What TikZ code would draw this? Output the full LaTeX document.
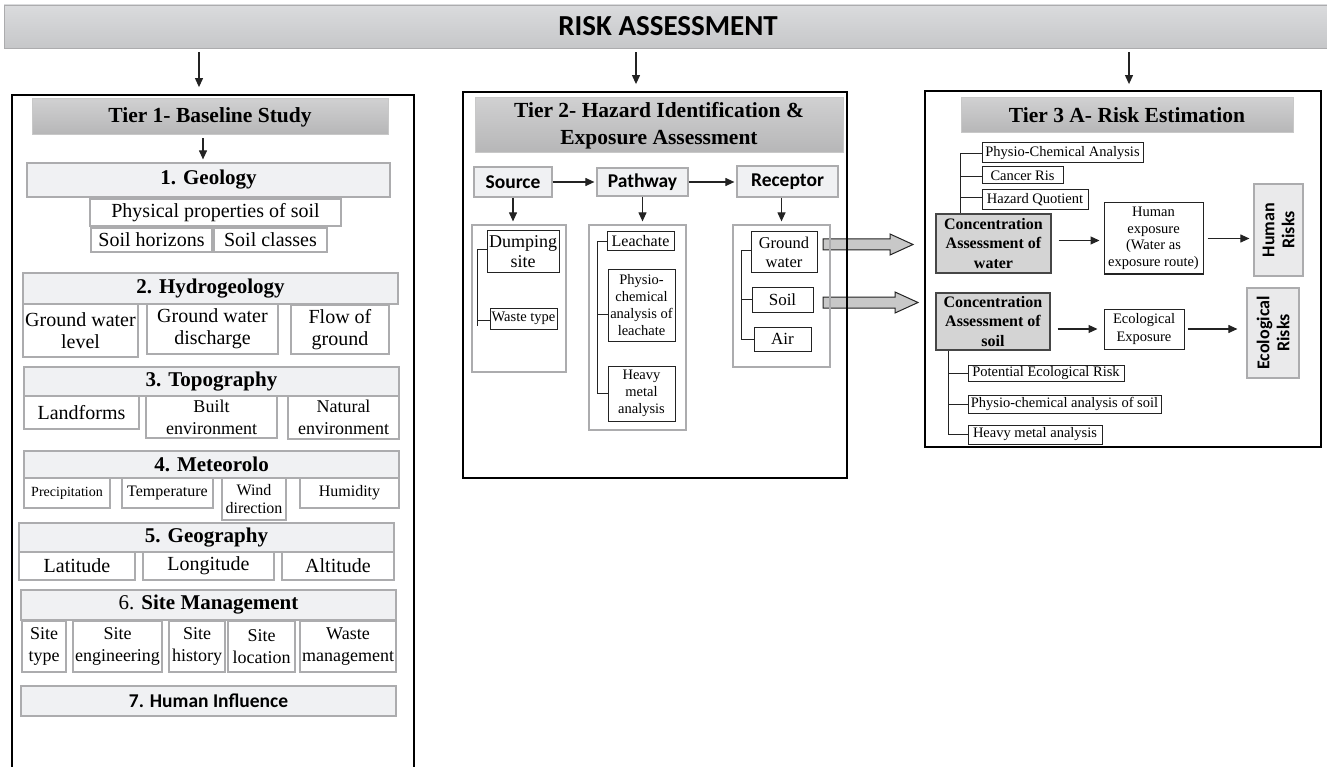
\documentclass[tikz,border=0pt]{standalone}
\usepackage{fontspec}
\setmainfont{Liberation Serif}
\newfontfamily\carl{Carlito}
\usetikzlibrary{arrows.meta}
\definecolor{bantop}{RGB}{218,219,221}
\definecolor{banbot}{RGB}{198,199,201}
\definecolor{hdrtop}{RGB}{208,208,209}
\definecolor{hdrbot}{RGB}{182,182,183}
\definecolor{hdrb}{RGB}{200,200,200}
\definecolor{secf}{RGB}{240,241,243}
\definecolor{secb}{RGB}{172,172,174}
\definecolor{concf}{RGB}{212,212,212}
\definecolor{concb}{RGB}{70,70,70}
\definecolor{riskf}{RGB}{234,234,235}
\definecolor{bigf}{RGB}{200,200,200}
\definecolor{dk}{RGB}{35,35,35}
\newcommand\mybox[8][]{\node[#2,#1,minimum width={(#5)-(#3)},minimum height={(#6)-(#4)}] (#7) at ({((#3)+(#5))/2},{((#4)+(#6))/2}) {#8};}
\tikzset{
  banner/.style={draw=secb, line width=0.8pt, top color=bantop, bottom color=banbot, inner sep=0pt, font=\carl\bfseries\fontsize{29}{32}\selectfont},
  tierbox/.style={draw=black, line width=1.8pt, inner sep=0pt},
  hdr/.style={draw=hdrb, line width=1pt, top color=hdrtop, bottom color=hdrbot, inner sep=0pt, align=center, font=\bfseries\fontsize{21.5}{27}\selectfont},
  sec/.style={draw=secb, line width=1.2pt, fill=secf, inner sep=0pt, align=center, font=\bfseries\fontsize{21}{24}\selectfont},
  itm/.style={draw=secb, line width=1.2pt, fill=white, inner sep=0pt, align=center, font=\fontsize{20}{22}\selectfont},
  grp/.style={draw=secb, line width=1.2pt, inner sep=0pt},
  spr/.style={draw=secb, line width=1.2pt, fill=secf, inner sep=0pt, font=\carl\bfseries\fontsize{19.5}{22}\selectfont},
  bk/.style={draw=dk, line width=1pt, fill=white, inner sep=0pt, align=center, font=\fontsize{14.5}{17}\selectfont},
  conc/.style={draw=concb, line width=1.2pt, fill=concf, inner sep=0pt, align=center, font=\bfseries\fontsize{16}{19.5}\selectfont},
  riskbox/.style={draw=secb, line width=1.2pt, fill=riskf, inner sep=0pt},
  risktxt/.style={rotate=90, align=center, inner sep=0pt, font=\carl\bfseries\fontsize{18}{20}\selectfont},
  arr/.style={-{Triangle[length=9pt,width=8pt]}, line width=1.1pt, draw=dk},
  tree/.style={line width=0.9pt, draw=dk},
  bigarr/.style={fill=bigf, draw=dk, line width=1pt, line join=miter}
}
\begin{document}
\begin{tikzpicture}[x=1pt,y=-1pt]
\useasboundingbox (0,0) rectangle (1327,767);

% banner
\mybox{banner}{4}{5}{1332}{48}{ban}{RISK ASSESSMENT}
\coordinate (x1) at (199,0);
\coordinate (x2) at (636,0);
\coordinate (x3) at (1129,0);

% ---------------- Tier 1 ----------------
\mybox{tierbox}{12}{95}{414}{790}{t1}{}
\mybox{hdr}{32}{99}{388}{135}{t1h}{Tier 1- Baseline Study}
\mybox{sec}{27}{163}{390}{197}{geo}{1. Geology}
\mybox{itm}{90}{199}{341}{226}{pps}{Physical properties of soil}
\mybox{itm}{91}{228}{212}{252}{shz}{Soil horizons}
\mybox{itm}{214}{228}{327}{252}{scl}{Soil classes}

\mybox{sec}{23}{273}{398}{304}{hyd}{2. Hydrogeology}
\mybox{itm}{23}{304}{138}{357}{gwl}{Ground water\\level}
\mybox{itm}{147}{304}{278}{354}{gwd}{Ground water\\discharge}
\mybox{itm}{291}{305}{389}{354}{fog}{Flow of\\ground}

\mybox{sec}{24}{367}{399}{396}{topo}{3. Topography}
\mybox{itm}{24}{396}{139}{429}{lf}{Landforms}
\mybox[font=\fontsize{18}{22}\selectfont]{itm}{146}{396}{277}{438}{be}{Built\\environment}
\mybox[font=\fontsize{18}{22}\selectfont]{itm}{288}{396}{399}{439}{ne}{Natural\\environment}

\mybox{sec}{24}{451}{399}{478}{met}{4. Meteorolo}
\mybox[font=\fontsize{14}{16}\selectfont]{itm}{24}{478}{110}{508}{prc}{Precipitation}
\mybox[font=\fontsize{16}{18}\selectfont]{itm}{122}{478}{213}{508}{tmp}{Temperature}
\mybox[font=\fontsize{16}{18}\selectfont]{itm}{222}{478}{286}{520}{wdr}{Wind\\direction}
\mybox[font=\fontsize{16}{18}\selectfont]{itm}{300}{478}{399}{508}{hum}{Humidity}

\mybox{sec}{19}{523}{394}{552}{geog}{5. Geography}
\mybox{itm}{19}{552}{135}{580}{lat}{Latitude}
\mybox{itm}{143}{552}{274}{580}{lon}{Longitude}
\mybox{itm}{282}{552}{394}{580}{alt}{Altitude}

\mybox[font=\fontsize{21}{24}\selectfont]{sec}{21}{590}{396}{620}{sman}{6. \textbf{Site Management}}
\mybox[font=\fontsize{18}{22}\selectfont]{itm}{22}{621}{66}{672}{sty}{Site\\type}
\mybox[font=\fontsize{18}{22}\selectfont]{itm}{73}{621}{162}{672}{sen}{Site\\engineering}
\mybox[font=\fontsize{18}{22}\selectfont]{itm}{169}{621}{225}{672}{shi}{Site\\history}
\mybox[font=\fontsize{18}{22}\selectfont]{itm}{228}{621}{295}{672}{slo}{Site\\location}
\mybox[font=\fontsize{18}{22}\selectfont]{itm}{300}{621}{396}{672}{wma}{Waste\\management}

\mybox[font=\carl\bfseries\fontsize{19.5}{22}\selectfont]{sec}{21}{686}{396}{716}{hin}{7. Human Influence}

\coordinate (x1b) at (203,0);
\draw[arr, shorten <=3pt, shorten >=3pt] (t1h.south -| x1b) -- (geo.north -| x1b);

% ---------------- Tier 2 ----------------
% big grey arrows (drawn below the panel border)
\coordinate (ba1) at (823,244.5);
\coordinate (ba2) at (823,302.5);
\draw[bigarr] (ba1) ++(0,-5.5) -- ++(67,0) -- ++(0,-5) -- ++(23,10.5) -- ++(-23,10.5) -- ++(0,-5) -- ++(-67,0) -- cycle;
\draw[bigarr] (ba2) ++(0,-5.5) -- ++(72,0) -- ++(0,-5) -- ++(23,10.5) -- ++(-23,10.5) -- ++(0,-5) -- ++(-72,0) -- cycle;

\mybox{tierbox}{463}{92}{847}{478}{t2}{}
\mybox{hdr}{475}{98}{843}{153}{t2h}{Tier 2- Hazard Identification \&\\Exposure Assessment}
\mybox{spr}{474}{167}{552}{197}{src}{Source}
\mybox{spr}{597}{168}{688}{196}{pw}{Pathway}
\mybox{spr}{737}{166}{838}{197}{rec}{Receptor}
\mybox{grp}{472}{225}{566}{372}{sg}{}
\mybox{grp}{589}{225}{686}{430}{pg}{}
\mybox{grp}{733}{225}{830}{367}{rg}{}

\mybox[font=\fontsize{18}{20}\selectfont]{bk}{487}{231}{559}{273}{dump}{Dumping\\site}
\mybox{bk}{490}{308}{557}{329}{wt}{Waste type}
\mybox[font=\fontsize{16}{18}\selectfont]{bk}{607}{232}{674}{251}{leach}{Leachate}
\mybox{bk}{608}{270}{675}{341}{phys}{Physio-\\chemical\\analysis of\\leachate}
\mybox{bk}{608}{366}{675}{421}{hvy}{Heavy\\metal\\analysis}
\mybox[font=\fontsize{16.5}{19}\selectfont]{bk}{751}{232}{817}{273}{gw}{Ground\\water}
\mybox[font=\fontsize{17}{19}\selectfont]{bk}{752}{287}{813}{312}{soil}{Soil}
\mybox[font=\fontsize{17}{19}\selectfont]{bk}{754}{327}{811}{351}{air}{Air}

\draw[arr, shorten >=2pt] (src.east) -- (pw.west);
\draw[arr, shorten >=2pt] (pw.east) -- (pw.east -| rec.west);
\draw[arr, shorten >=3pt] (src.south) -- (src.south |- sg.north);
\draw[arr, shorten >=3pt] (pw.south) -- (pw.south |- pg.north);
\draw[arr, shorten >=3pt] (rg.north |- rec.south) -- (rg.north);

\draw[tree] ([yshift=3pt]dump.west) -- ++(-9,0) |- ([yshift=-1.5pt]wt.west);
\draw[tree] ([yshift=-1.5pt]wt.west) ++(-12,0) -- ++(0,6);
\draw[tree] (leach.west) -- ++(-9,0) |- (hvy.west);
\draw[tree] ([yshift=-8.5pt]phys.west) -- ++(-10,0);
\draw[tree] ([yshift=2pt]gw.west) -- ++(-9,0) |- (air.west);
\draw[tree] (soil.west) -- ++(-10,0);

% ---------------- Tier 3 ----------------
\mybox{tierbox}{925}{91}{1321}{447}{t3}{}
\mybox{hdr}{961}{98}{1293}{133}{t3h}{Tier 3 A- Risk Estimation}
\mybox{bk}{982}{143}{1143}{163}{pca}{Physio-Chemical Analysis}
\mybox{bk}{982}{167}{1063}{184}{cr}{Cancer Ris}
\mybox{bk}{982}{190}{1088}{210}{hq}{Hazard Quotient}
\mybox{conc}{936}{214}{1051}{273}{cw}{Concentration\\Assessment of\\water}
\mybox[font=\fontsize{14.5}{16.5}\selectfont]{bk}{1104}{203}{1203}{274}{he}{Human\\exposure\\(Water as\\exposure route)}
\mybox{riskbox}{1254}{184}{1303}{276}{hr}{}
\node[risktxt] (hrt) at (hr.center) {Human\\Risks};

\mybox{conc}{936}{293}{1050}{350}{cs}{Concentration\\Assessment of\\soil}
\mybox[font=\fontsize{14.5}{18}\selectfont]{bk}{1104}{309}{1184}{349}{ee}{Ecological\\Exposure}
\mybox{riskbox}{1247}{288}{1299}{378}{er}{}
\node[risktxt] (ert) at (er.center) {Ecological\\Risks};
\mybox{bk}{968}{365}{1124}{381}{per}{Potential Ecological Risk}
\mybox{bk}{968}{395}{1161}{413}{pcs}{Physio-chemical analysis of soil}
\mybox{bk}{968}{425}{1102}{444}{hma}{Heavy metal analysis}

\draw[tree] (pca.west) -| ([xshift=25pt]cw.north west);
\draw[tree] ([yshift=-1pt]cr.west) -- ++(-21,0);
\draw[tree] ([yshift=3pt]hq.west) -- ++(-21,0);
\draw[tree] ([xshift=13pt]cs.south west) |- (hma.west);
\draw[tree] (per.west) -- ++(-19,0);
\draw[tree] (pcs.west) -- ++(-19,0);

\draw[arr, shorten <=7pt, shorten >=4pt] ([yshift=3pt]cw.east) -- ([yshift=3pt]cw.east -| he.west);
\draw[arr, shorten <=4pt, shorten >=4pt] (he.east) -- (he.east -| hr.west);
\draw[arr, shorten <=7pt, shorten >=6pt] (cs.east |- ee.west) -- (ee.west);
\draw[arr, shorten <=3pt, shorten >=9pt] (ee.east) -- (ee.east -| er.west);

% arrows from banner
\draw[arr, shorten <=4pt, shorten >=7pt] (ban.south -| x1) -- (t1.north -| x1);
\draw[arr, shorten <=4pt, shorten >=7pt] (ban.south -| x2) -- (t2.north -| x2);
\draw[arr, shorten <=4pt, shorten >=6pt] (ban.south -| x3) -- (t3.north -| x3);
\end{tikzpicture}
\end{document}
